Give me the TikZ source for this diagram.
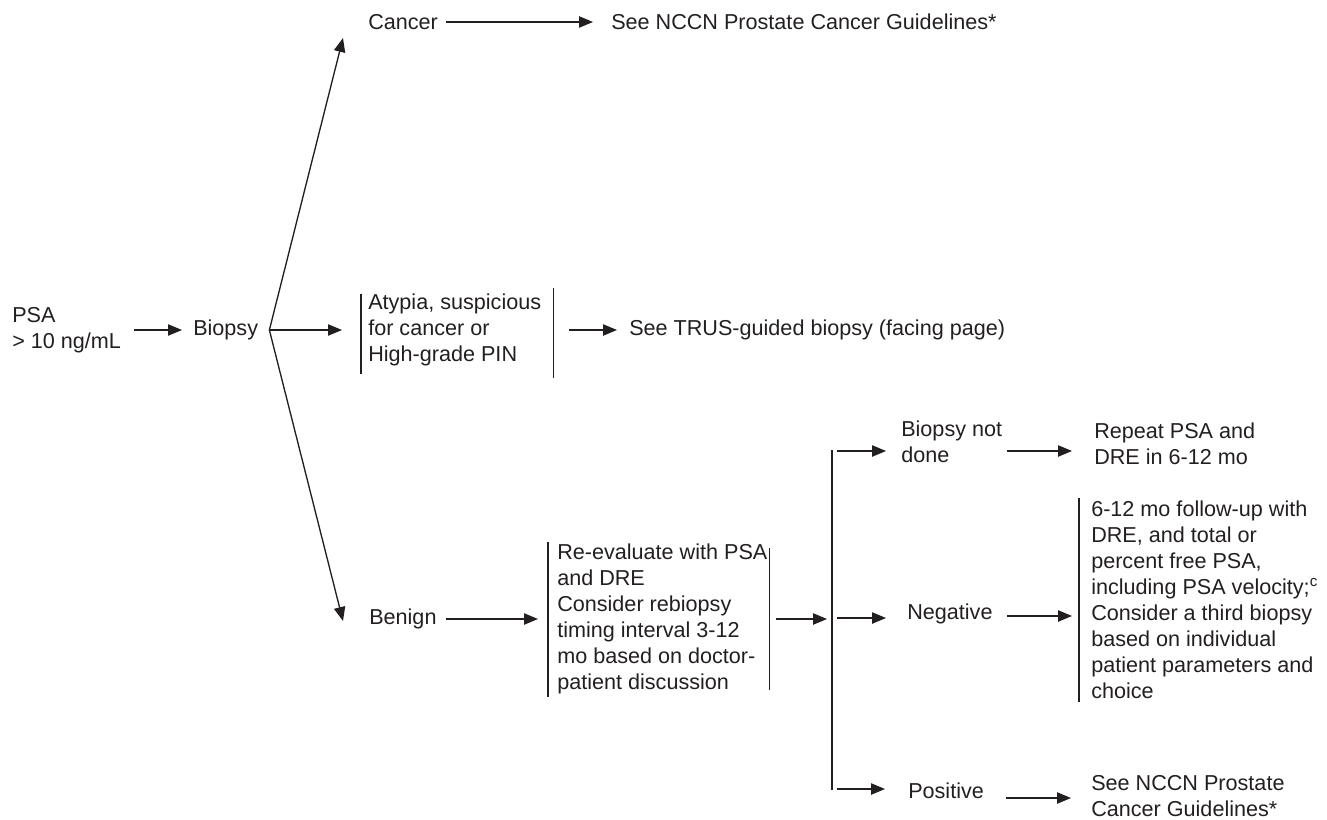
\documentclass[tikz,border=0pt]{standalone}
\usepackage{fontspec}
\setmainfont{Liberation Sans}
\usetikzlibrary{arrows.meta,calc}
\definecolor{ink}{HTML}{231F20}
\begin{document}
\begin{tikzpicture}[x=0.75pt,y=-0.75pt,
  txt/.style={anchor=west,inner sep=0pt,align=left,text=ink,
    font=\fontsize{16.2pt}{19.5pt}\selectfont},
  arr/.style={draw=ink,line width=1pt,-{Triangle[length=10.5pt,width=8.5pt]}},
  rule/.style={draw=ink,line width=1pt}]
\useasboundingbox (0,0) rectangle (1327,820);

% text nodes
\node[txt] (psa)    at (12,330)  {PSA\\> 10 ng/mL};
\node[txt] (biopsy) at (193,330) {Biopsy};
\node[txt] (cancer) at (368,22)  {Cancer};
\node[txt] (seetop) at (611,22)  {See NCCN Prostate Cancer Guidelines*};
\node[txt] (atyp)   at (368,330) {Atypia, suspicious\\for cancer or\\High-grade PIN};
\node[txt] (trus)   at (629,330) {See TRUS-guided biopsy (facing page)};
\node[txt] (benign) at (369,619) {Benign};
\node[txt] (reeval) at (557,619) {Re-evaluate with PSA\\and DRE\\Consider rebiopsy\\timing interval 3-12\\mo based on doctor-\\patient discussion};
\node[txt] (bnd)    at (901,441.5) {Biopsy not\\done};
\node[txt] (neg)    at (907,614) {Negative};
\node[txt] (pos)    at (908,791) {Positive};
\node[txt] (repeat) at (1094,444) {Repeat PSA and\\DRE in 6-12 mo};
\node[txt] (follow) at (1091,600) {6-12 mo follow-up with\\DRE, and total or\\percent free PSA,\\including PSA velocity;\textsuperscript{c}\\Consider a third biopsy\\based on individual\\patient parameters and\\choice};
\node[txt] (seebot) at (1091,796.5) {See NCCN Prostate\\Cancer Guidelines*};

% bracket rules beside the text blocks
\draw[rule] ($(atyp.west)+(-7,-36)$) -- ($(atyp.west)+(-7,44)$);
\draw[rule] ($(atyp.east)+(12,-42)$) -- ($(atyp.east)+(12,48)$);
\draw[rule] ($(reeval.west)+(-9,-77)$) -- ($(reeval.west)+(-9,78)$);
\draw[rule] ($(reeval.east)+(2,-71)$) -- ($(reeval.east)+(2,71)$);
\draw[rule] ($(follow.west)+(-12,-102)$) -- ($(follow.west)+(-12,102)$);

% fan out of the biopsy
\coordinate (apex) at ($(biopsy.east)+(11,0)$);
\coordinate (upTip) at (343,38);
\coordinate (downTip) at (343,621);
\draw[arr] ($(psa.east)+(13,0)$) -- ($(biopsy.west)+(-11,0)$);
\draw[arr] (apex) -- (upTip);
\draw[arr] (apex) -- (downTip);
\draw[arr] (apex) -- ($(atyp.west)+(-26,0)$);

% first-level results
\draw[arr] ($(cancer.east)+(8,0)$) -- ($(seetop.west)+(-18,0)$);
\draw[arr] ($(atyp.east)+(28,0)$) -- ($(trus.west)+(-12,0)$);
\draw[arr] ($(benign.east)+(9,0)$) -- ($(reeval.west)+(-19,0)$);

% repeat-biopsy bus
\coordinate (busTop) at (832,450);
\coordinate (busBot) at (832,790);
\draw[rule] (busTop) -- (busBot);
\draw[arr] ($(reeval.east)+(8,0)$) -- ($(reeval.east -| busTop)+(-5,0)$);
\draw[arr] ($(busTop)+(5,1)$) -- ($(busTop -| bnd.west)+(-15,1)$);
\draw[arr] ($(neg.west -| busTop)+(5,4)$) -- ($(neg.west)+(-21,4)$);
\draw[arr] ($(busBot)+(5,-1)$) -- ($(busBot -| pos.west)+(-23,-1)$);

% second-level results
\draw[arr] ($(bnd.east)+(5,9.5)$) -- ($(bnd.east -| repeat.west)+(-22,9.5)$);
\draw[arr] ($(neg.east)+(14,2)$) -- ($(neg.east -| follow.west)+(-19,2)$);
\draw[arr] ($(pos.east)+(22,7)$) -- ($(pos.east -| seebot.west)+(-20,7)$);
\end{tikzpicture}
\end{document}
